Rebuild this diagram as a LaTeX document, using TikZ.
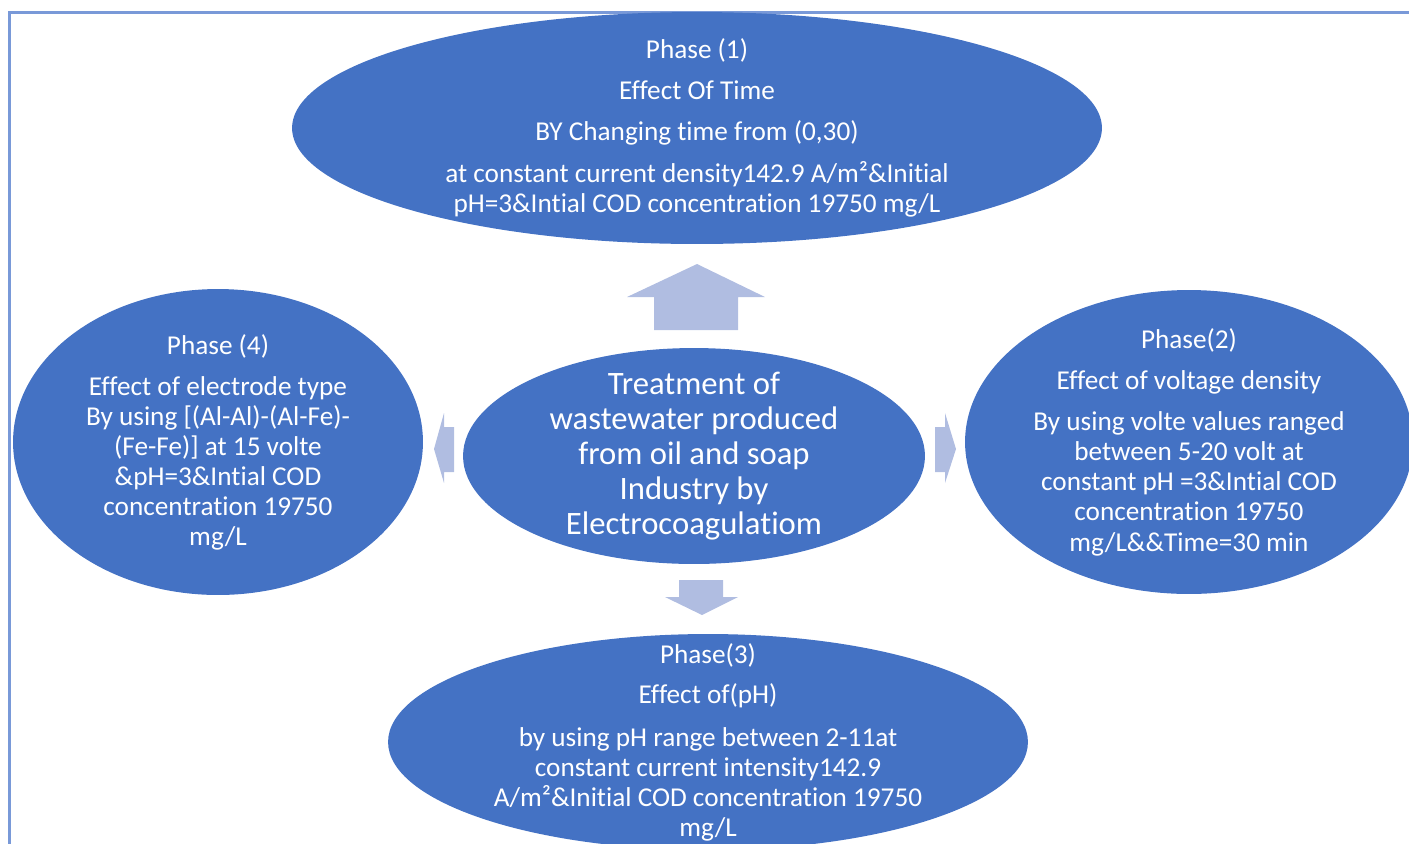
\documentclass[tikz,border=0pt]{standalone}
\usepackage{fontspec}
\setmainfont{Carlito}[Ligatures=NoCommon]
\usetikzlibrary{shapes.geometric}
\definecolor{phaseblue}{RGB}{68,114,196}
\definecolor{arrowblue}{RGB}{176,189,225}
\definecolor{frameblue}{RGB}{121,153,216}

\tikzset{
    phase/.style={ellipse, fill=phaseblue, inner sep=0pt},
    phasetext/.style={text=white, align=center, inner sep=0pt,
        font=\fontsize{15.5}{17.1}\selectfont},
    maintext/.style={text=white, align=center, inner sep=0pt,
        font=\fontsize{18.6}{19.9}\selectfont},
    blockarrow/.style={fill=arrowblue}
}

\begin{document}
\begin{tikzpicture}[x=0.02cm, y=-0.02cm]
    \clip (0,0) rectangle (1409,843);
    % Frame
    \draw[frameblue, line width=0.045cm] (9.5,12.5) rectangle (1440,880);

    % Five ellipses
    \node[phase, minimum width=16.2cm, minimum height=4.64cm] (phaseone) at (697,128) {};
    \node[phase, minimum width=8.2cm, minimum height=6.12cm] (phasefour) at (218,442) {};
    \node[phase, minimum width=8.96cm, minimum height=6.08cm] (phasetwo) at (1189,442) {};
    \node[phase, minimum width=9.24cm, minimum height=4.32cm] (centre) at (694,456) {};
    \node[phase, minimum width=12.8cm, minimum height=4.32cm] (phasethree) at (708,742) {};

    % Texts
    \node[phasetext] (onetext) at (phaseone) {
        Phase (1)\\[0.22cm]
        Effect Of Time\\[0.22cm]
        BY Changing time from (0,30)\\[0.23cm]
        at constant current density142.9 A/m²\&Initial\\
        pH=3\&Intial COD concentration 19750 mg/L
    };
    \node[phasetext] (fourtext) at (phasefour) {
        Phase (4)\\[0.22cm]
        Effect of electrode type\\
        By using [(Al-Al)-(Al-Fe)-\\
        (Fe-Fe)] at 15 volte\\
        \&pH=3\&Intial COD\\
        concentration 19750\\
        mg/L
    };
    \node[phasetext] (twotext) at (phasetwo) {
        Phase(2)\\[0.22cm]
        Effect of voltage density\\[0.23cm]
        By using volte values ranged\\
        between 5-20 volt at\\
        constant pH =3\&Intial COD\\
        concentration 19750\\
        mg/L\&\&Time=30 min
    };
    \node[phasetext] (threetext) at (phasethree) {
        Phase(3)\\[0.2cm]
        Effect of(pH)\\[0.26cm]
        by using pH range between 2-11at\\
        constant current intensity142.9\\
        A/m²\&Initial COD concentration 19750\\
        mg/L
    };
    \node[maintext] (centretext) at (centre) {
        Treatment of\\
        wastewater produced\\
        from oil and soap\\
        Industry by\\
        Electrocoagulatiom
    };

    % Block arrows
    \fill[blockarrow] (654,330) -- (654,297) -- (627,297) -- (697,264)
        -- (765,297) -- (738,297) -- (738,330) -- cycle;
    \fill[blockarrow] (679,580) -- (723,580) -- (723,597) -- (738,597)
        -- (702,615) -- (665,597) -- (679,597) -- cycle;
    \fill[blockarrow] (454,427) -- (444,427) -- (444,413) -- (434,449)
        -- (444,483) -- (444,472) -- (454,472) -- cycle;
    \fill[blockarrow] (935,427) -- (945,427) -- (945,413) -- (956,449)
        -- (945,483) -- (945,472) -- (935,472) -- cycle;
\end{tikzpicture}
\end{document}
